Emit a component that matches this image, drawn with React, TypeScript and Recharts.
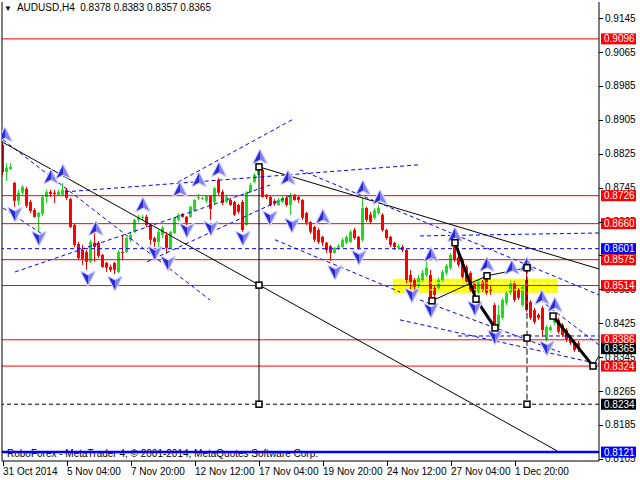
import React from 'react';
import {
  ComposedChart,
  Bar,
  Scatter,
  XAxis,
  YAxis,
  ReferenceLine,
  ReferenceArea,
} from 'recharts';

const FONT = "'Liberation Sans', Arial, sans-serif";
const BULL = '#1edc1e';
const BEAR = '#ff0000';

// H4 candles, oldest first (31 Oct 2014 .. 3 Dec 2014)
const opens = [
  0.8846, 0.8782, 0.8789, 0.8756, 0.8714, 0.8733, 0.8742, 0.8711, 0.8692, 0.8676,
  0.8683, 0.8723, 0.8735, 0.8733, 0.8728, 0.8728, 0.874, 0.8718, 0.8657, 0.8612,
  0.8598, 0.8593, 0.857, 0.8615, 0.8615, 0.8586, 0.8567, 0.8558, 0.8567, 0.8546,
  0.8593, 0.8593, 0.8622, 0.8641, 0.8669, 0.8674, 0.8676, 0.8657, 0.8626, 0.8617,
  0.8633, 0.8633, 0.8603, 0.8638, 0.8669, 0.8683, 0.8676, 0.8676, 0.8692, 0.8721,
  0.8718, 0.8714, 0.8725, 0.8711, 0.8763, 0.8735, 0.8711, 0.8716, 0.8711, 0.8704,
  0.8711, 0.8657, 0.8735, 0.8759, 0.8775, 0.8787, 0.8728, 0.8723, 0.8714, 0.8704,
  0.8711, 0.8721, 0.8704, 0.8728, 0.8723, 0.8716, 0.8685, 0.8664, 0.8652, 0.8645,
  0.8629, 0.8615, 0.8607, 0.8591, 0.8603, 0.8605, 0.8615, 0.8617, 0.8645, 0.8629,
  0.8622, 0.8697, 0.8681, 0.8674, 0.8685, 0.8681, 0.8645, 0.8629, 0.8615, 0.8603,
  0.8605, 0.8598, 0.8539, 0.8527, 0.8515, 0.8527, 0.8539, 0.8539, 0.8508, 0.8508,
  0.8527, 0.8544, 0.8556, 0.8605, 0.8581, 0.8574, 0.8558, 0.8544, 0.852, 0.8499,
  0.8523, 0.8539, 0.8504, 0.8468, 0.8416, 0.8438, 0.8473, 0.8497, 0.852, 0.8504,
  0.8468, 0.8527, 0.8475, 0.8456, 0.8445, 0.8461, 0.8386, 0.8409, 0.8426, 0.8433,
  0.8421, 0.8409, 0.8393, 0.8381, 0.8378,
];
const highs = [
  0.8851, 0.8803, 0.8803, 0.8759, 0.874, 0.8751, 0.8747, 0.8716, 0.8697, 0.8688,
  0.8728, 0.874, 0.874, 0.874, 0.874, 0.8756, 0.8744, 0.8721, 0.8659, 0.8617,
  0.861, 0.8598, 0.8622, 0.8641, 0.8619, 0.8589, 0.857, 0.8563, 0.857, 0.8598,
  0.8633, 0.8629, 0.8641, 0.8671, 0.8681, 0.8681, 0.8681, 0.8659, 0.8629, 0.8645,
  0.8655, 0.8641, 0.8643, 0.8676, 0.8685, 0.8685, 0.8678, 0.8702, 0.8718, 0.873,
  0.8723, 0.8728, 0.8727, 0.8747, 0.8768, 0.874, 0.8728, 0.8718, 0.8714, 0.8707,
  0.8716, 0.8737, 0.8756, 0.878, 0.8801, 0.8792, 0.873, 0.8726, 0.8718, 0.8721,
  0.8725, 0.8725, 0.8733, 0.873, 0.8725, 0.8718, 0.8688, 0.8666, 0.8655, 0.865,
  0.8631, 0.8617, 0.861, 0.8605, 0.8612, 0.8626, 0.8633, 0.8645, 0.865, 0.8631,
  0.8721, 0.87, 0.8688, 0.8697, 0.8704, 0.8685, 0.8648, 0.8631, 0.8617, 0.8612,
  0.861, 0.86, 0.8551, 0.8532, 0.8539, 0.8551, 0.857, 0.8551, 0.8513, 0.8532,
  0.8551, 0.8565, 0.8591, 0.8615, 0.8586, 0.8579, 0.8563, 0.8548, 0.8525, 0.8527,
  0.8527, 0.8544, 0.8513, 0.8473, 0.8468, 0.8485, 0.8501, 0.8525, 0.8525, 0.8508,
  0.8515, 0.8556, 0.848, 0.8461, 0.8449, 0.8466, 0.8421, 0.8421, 0.8445, 0.8438,
  0.8426, 0.8414, 0.8398, 0.8386, 0.8383,
];
const lows = [
  0.8775, 0.8761, 0.8787, 0.87, 0.8704, 0.8728, 0.8697, 0.8685, 0.8674, 0.8641,
  0.8678, 0.8709, 0.8723, 0.8709, 0.8725, 0.8725, 0.8716, 0.865, 0.8605, 0.8574,
  0.8563, 0.8551, 0.8567, 0.857, 0.8579, 0.8556, 0.8546, 0.8546, 0.8541, 0.8544,
  0.8574, 0.8591, 0.8617, 0.8638, 0.8664, 0.8669, 0.8652, 0.861, 0.8605, 0.8591,
  0.8626, 0.8589, 0.8603, 0.8636, 0.8666, 0.8674, 0.8657, 0.8674, 0.8688, 0.8716,
  0.8716, 0.8709, 0.8669, 0.8704, 0.8728, 0.8704, 0.8709, 0.8702, 0.8678, 0.8683,
  0.8641, 0.8655, 0.8733, 0.8756, 0.877, 0.8721, 0.8718, 0.87, 0.8702, 0.8702,
  0.8709, 0.87, 0.8681, 0.8714, 0.8709, 0.8669, 0.8657, 0.8636, 0.8617, 0.8612,
  0.8607, 0.8591, 0.8572, 0.8589, 0.8598, 0.8603, 0.8612, 0.8615, 0.8622, 0.8598,
  0.8617, 0.8664, 0.8659, 0.8669, 0.8681, 0.8641, 0.8622, 0.8605, 0.8598, 0.8598,
  0.8593, 0.852, 0.8504, 0.8499, 0.8508, 0.8523, 0.8534, 0.8475, 0.8485, 0.8504,
  0.8523, 0.8539, 0.8551, 0.857, 0.8558, 0.853, 0.8518, 0.8499, 0.8492, 0.8494,
  0.8499, 0.8492, 0.8492, 0.8412, 0.8412, 0.8433, 0.8468, 0.8492, 0.8475, 0.848,
  0.8464, 0.8452, 0.8433, 0.8423, 0.8433, 0.8393, 0.8381, 0.8405, 0.8421, 0.84,
  0.8393, 0.8381, 0.8374, 0.8357, 0.8357,
];
const closes = [
  0.8782, 0.8792, 0.8794, 0.8714, 0.8733, 0.8747, 0.8702, 0.869, 0.8676, 0.8685,
  0.8723, 0.8735, 0.873, 0.873, 0.8735, 0.874, 0.8721, 0.8652, 0.861, 0.8579,
  0.8577, 0.857, 0.8617, 0.8605, 0.8584, 0.8558, 0.8556, 0.8551, 0.8551, 0.8593,
  0.8591, 0.8626, 0.8633, 0.8669, 0.8676, 0.8676, 0.8657, 0.8622, 0.8617, 0.8641,
  0.865, 0.8603, 0.8641, 0.8674, 0.8681, 0.8676, 0.8662, 0.87, 0.8716, 0.8723,
  0.8721, 0.8725, 0.8695, 0.8744, 0.8733, 0.8709, 0.8723, 0.8704, 0.8681, 0.8688,
  0.8645, 0.8733, 0.8751, 0.8775, 0.8792, 0.8723, 0.8723, 0.8704, 0.8707, 0.8716,
  0.8721, 0.8704, 0.8728, 0.8716, 0.8716, 0.8674, 0.8662, 0.8641, 0.8622, 0.8617,
  0.8615, 0.8598, 0.8591, 0.8603, 0.8607, 0.8622, 0.8629, 0.8641, 0.8626, 0.8603,
  0.8697, 0.8669, 0.8664, 0.8692, 0.8697, 0.8645, 0.8626, 0.861, 0.8605, 0.8607,
  0.8598, 0.8527, 0.852, 0.8511, 0.8532, 0.8544, 0.8556, 0.848, 0.8492, 0.8527,
  0.8546, 0.856, 0.8586, 0.8574, 0.8563, 0.8534, 0.8523, 0.8504, 0.8497, 0.8523,
  0.8504, 0.8497, 0.8501, 0.8416, 0.8445, 0.848, 0.8497, 0.852, 0.848, 0.8485,
  0.8511, 0.8456, 0.8438, 0.8428, 0.8438, 0.8409, 0.8416, 0.8416, 0.844, 0.8405,
  0.8397, 0.8386, 0.8379, 0.8362, 0.8365,
];

const dateTicks = [0, 16, 32, 48, 64, 80, 96, 112, 128];
const dateLabels = [
  '31 Oct 2014', '5 Nov 04:00', '7 Nov 20:00', '12 Nov 12:00', '17 Nov 04:00',
  '19 Nov 20:00', '24 Nov 12:00', '27 Nov 04:00', '1 Dec 20:00',
];
const priceTicks = [
  0.9145, 0.9065, 0.8985, 0.8905, 0.8825, 0.8745, 0.8665, 0.8585, 0.8505,
  0.8425, 0.8345, 0.8265, 0.8185, 0.8105,
];

// horizontal levels
const redLevels = [0.9096, 0.8726, 0.866, 0.8575, 0.8514, 0.8386, 0.8324];
const blueDashLevel = 0.8601;
const targetLevel = 0.8234;
const bottomLevel = 0.8121;

// fractal arrows [bar, price]
const upArrows = [
  [0.5, 0.8869], [12, 0.877], [15, 0.8782], [23.25, 0.8648], [35, 0.8704],
  [44.25, 0.874], [49, 0.8763], [54, 0.8787], [64.25, 0.8817], [71.25, 0.8768],
  [80, 0.8676], [90, 0.8744], [94.25, 0.8721], [107, 0.8586], [113, 0.8633],
  [121, 0.8563], [127.25, 0.8556], [131, 0.8563], [134.75, 0.8485], [138, 0.8468],
];
const downArrows = [
  [3, 0.8683], [9, 0.8626], [21.25, 0.8532], [28, 0.852], [38, 0.8591],
  [41.25, 0.8567], [46, 0.8645], [52, 0.865], [60, 0.8626], [66.75, 0.8674],
  [72.25, 0.8657], [83, 0.8546], [89, 0.8581], [102.25, 0.8492], [107, 0.8456],
  [118, 0.8461], [123, 0.8393], [136, 0.8367],
];

// trend lines [bar1, price1, bar2, price2]
const blackLines = [
  [-0.25, 0.8853, 138.5, 0.8124],
  [64, 0.8794, 149, 0.8553],
  [107.25, 0.8478, 121, 0.8537],
  [121, 0.8537, 131, 0.8556],
  [64, 0.8794, 64, 0.8234],
  [147.5, 0.8324, 149, 0.8348],
];
const blackDashLines = [[131, 0.8556, 131, 0.8234]];
const waveLines = [
  [113, 0.8615, 118.25, 0.8482],
  [118.25, 0.8482, 123, 0.8414],
  [137.5, 0.8442, 147.5, 0.8324],
];
const waveNodes = [
  [64, 0.8794], [64, 0.8515], [64, 0.8234], [107.25, 0.8478], [113, 0.8615],
  [118.25, 0.8482], [121, 0.8537], [123, 0.8414], [131, 0.8556], [131, 0.839],
  [131, 0.8234], [137.5, 0.8442], [147.5, 0.8324],
];
const channelLines = [
  [0, 0.8858, 51.75, 0.848],
  [0, 0.8697, 10.5, 0.8631],
  [3, 0.8546, 66.75, 0.8751],
  [36, 0.857, 72.25, 0.8728],
  [15.5, 0.8735, 104.25, 0.8799],
  [43.75, 0.8758, 72.25, 0.8905],
  [68, 0.8622, 99.25, 0.8499],
  [74.25, 0.8787, 149, 0.8492],
  [104.25, 0.8631, 149, 0.8638],
  [99.25, 0.8433, 149, 0.8329],
  [113.75, 0.8395, 149, 0.8395],
  [134.25, 0.848, 149, 0.8374],
  [104.25, 0.848, 139.25, 0.8357],
];
const zone = [97.5, 0.853, 138.75, 0.8497];
const zoneDashes = [0.852, 0.8504];

function Candle(props: any) {
  const { x, y, width, height, payload } = props;
  if (!payload || height == null || isNaN(y)) return null;
  const { open, close, high, low } = payload;
  const k = height / (high - low);
  const cx = Math.floor(x + width / 2);
  const color = close >= open ? BULL : BEAR;
  const top = y + (high - Math.max(open, close)) * k;
  const bot = y + (high - Math.min(open, close)) * k;
  return (
    <g>
      <line x1={cx + 0.5} x2={cx + 0.5} y1={y} y2={y + height} stroke={color} />
      <rect x={cx - 1} y={top} width={3} height={Math.max(1, bot - top)} fill={color} />
    </g>
  );
}

function Arrow({ cx, cy, flip }: any) {
  return (
    <g transform={`translate(${cx},${cy}) scale(1,${flip ? -1 : 1})`}>
      <path d="M0,-7 L6.5,6 L0,2.5 L-6.5,6 Z" fill="#d6d6ff" stroke="#d6d6ff" strokeWidth={2.5} strokeLinejoin="round" />
      <path d="M0,-7 L0,2.5 L-6.5,6 Z" fill="#2a2ad8" />
      <path d="M0,-7 L6.5,6 L0,2.5 Z" fill="#8080ee" />
    </g>
  );
}

function Node({ cx, cy }: any) {
  return <rect x={cx - 3} y={cy - 3} width={6} height={6} fill="#fff" stroke="#000" strokeWidth={1.5} />;
}

// coloured price box on the right scale
function PriceTag({ viewBox, price, bg }: any) {
  if (!viewBox) return null;
  const x = viewBox.x + viewBox.width;
  const y = viewBox.y;
  return (
    <g>
      <rect x={x + 2} y={y - 5.5} width={35} height={11} fill={bg} />
      <text x={x + 5} y={y} dy="0.35em" fontSize={10} fill="#fff" fontFamily={FONT}>
        {price.toFixed(4)}
      </text>
    </g>
  );
}

// plain scale label, drawn in the same layer as the boxes so the boxes cover it
function ScaleLabel({ viewBox, price }: any) {
  if (!viewBox) return null;
  const x = viewBox.x + viewBox.width;
  return (
    <text x={x + 6} y={viewBox.y} dy="0.35em" fontSize={10} fill="#000" fontFamily={FONT}>
      {price.toFixed(4)}
    </text>
  );
}

function PriceTick({ x, y }: any) {
  const yy = Math.round(y) + 0.5;
  return <line x1={x} x2={x + 4} y1={yy} y2={yy} stroke="#000" />;
}

function DateTick({ x, y, payload }: any) {
  const label = dateLabels[dateTicks.indexOf(payload.value)];
  const xx = Math.floor(x) + 0.5;
  return (
    <g>
      <line x1={xx} x2={xx} y1={y} y2={y + 5} stroke="#000" />
      <text x={x} y={y + 10} dy="0.35em" fontSize={10} fill="#000" fontFamily={FONT}>
        {label}
      </text>
    </g>
  );
}

const seg = (l: number[]) => [
  { x: l[0], y: l[1] },
  { x: l[2], y: l[3] },
];

export default function App() {
  const data = opens.map((open, i) => ({
    i,
    open,
    high: highs[i],
    low: lows[i],
    close: closes[i],
  }));
  const ups = upArrows.map(([i, p]) => ({ i, p }));
  const downs = downArrows.map(([i, p]) => ({ i, p }));
  const nodes = waveNodes.map(([i, p]) => ({ i, p }));
  const last = closes[closes.length - 1];

  return (
    <div style={{ position: 'relative', width: 640, height: 480, background: '#fff', fontFamily: FONT }}>
      <style>{'body{margin:0}'}</style>
      <div
        style={{
          position: 'absolute', left: 7, top: 448, fontSize: 10, lineHeight: '12px',
          whiteSpace: 'nowrap', zIndex: 0, color: '#000',
        }}
      >
        RoboForex - MetaTrader 4, © 2001-2014, MetaQuotes Software Corp.
      </div>
      <div style={{ position: 'relative', zIndex: 1 }}>
        <ComposedChart
          width={640}
          height={480}
          data={data}
          margin={{ top: 2, right: 0, bottom: 0, left: 2 }}
        >
          <XAxis
            type="number"
            dataKey="i"
            domain={[-0.25, 149]}
            allowDataOverflow
            ticks={dateTicks}
            interval={0}
            tick={<DateTick />}
            tickSize={0}
            tickMargin={0}
            height={19}
            axisLine={{ stroke: '#000' }}
          />
          <YAxis
            orientation="right"
            type="number"
            domain={[0.81, 0.9183]}
            allowDataOverflow
            ticks={priceTicks}
            interval={0}
            tick={<PriceTick />}
            tickSize={0}
            tickMargin={0}
            width={41}
            axisLine={{ stroke: '#000' }}
          />
          <ReferenceArea
            x1={zone[0]}
            x2={zone[2]}
            y1={zone[1]}
            y2={zone[3]}
            fill="#ffff00"
            fillOpacity={1}
            stroke="none"
          />
          {zoneDashes.map((p) => (
            <ReferenceLine key={'z' + p} segment={[{ x: 98, y: p }, { x: 138.5, y: p }]} stroke="#fff" strokeDasharray="4 3" />
          ))}
          {channelLines.map((l, k) => (
            <ReferenceLine key={'c' + k} segment={seg(l)} stroke="#0000ff" strokeDasharray="4 3" ifOverflow="visible" />
          ))}
          {priceTicks.map((t) => (
            <ReferenceLine key={'t' + t} y={t} stroke="none" label={<ScaleLabel price={t} />} />
          ))}
          <ReferenceLine
            y={blueDashLevel}
            stroke="#0000ff"
            strokeDasharray="4 3"
            label={<PriceTag price={blueDashLevel} bg="#0000ff" />}
          />
          {redLevels.map((v) => (
            <ReferenceLine key={'r' + v} y={v} stroke="#ff0000" label={<PriceTag price={v} bg="#ff0000" />} />
          ))}
          <ReferenceLine
            y={targetLevel}
            stroke="#000"
            strokeDasharray="4 3"
            label={<PriceTag price={targetLevel} bg="#000" />}
          />
          <ReferenceLine
            y={bottomLevel}
            stroke="#0000ff"
            strokeWidth={2.5}
            label={<PriceTag price={bottomLevel} bg="#0000ff" />}
          />
          <ReferenceLine x={-0.25} stroke="#000" />
          {blackLines.map((l, k) => (
            <ReferenceLine key={'b' + k} segment={seg(l)} stroke="#000" ifOverflow="visible" />
          ))}
          {blackDashLines.map((l, k) => (
            <ReferenceLine key={'bd' + k} segment={seg(l)} stroke="#000" strokeDasharray="6 3" ifOverflow="visible" />
          ))}
          {waveLines.map((l, k) => (
            <ReferenceLine key={'w' + k} segment={seg(l)} stroke="#000" strokeWidth={3} ifOverflow="visible" />
          ))}
          <Bar
            dataKey={(d: any) => [d.low, d.high]}
            barSize={3}
            shape={(p: any) => <Candle {...p} />}
            isAnimationActive={false}
          />
          <Scatter data={ups} dataKey="p" shape={(p: any) => <Arrow {...p} />} isAnimationActive={false} />
          <Scatter data={downs} dataKey="p" shape={(p: any) => <Arrow {...p} flip />} isAnimationActive={false} />
          <Scatter data={nodes} dataKey="p" shape={(p: any) => <Node {...p} />} isAnimationActive={false} />
          <ReferenceLine y={last} stroke="none" label={<PriceTag price={last} bg="#000" />} />
        </ComposedChart>
      </div>
      <div
        style={{
          position: 'absolute', left: 4, top: 2, fontSize: 10, lineHeight: '12px',
          whiteSpace: 'pre', zIndex: 2, color: '#000',
        }}
      >
        <span style={{ fontSize: 8 }}>▼</span>{'  AUDUSD,H4  0.8378 0.8383 0.8357 0.8365'}
      </div>
    </div>
  );
}
